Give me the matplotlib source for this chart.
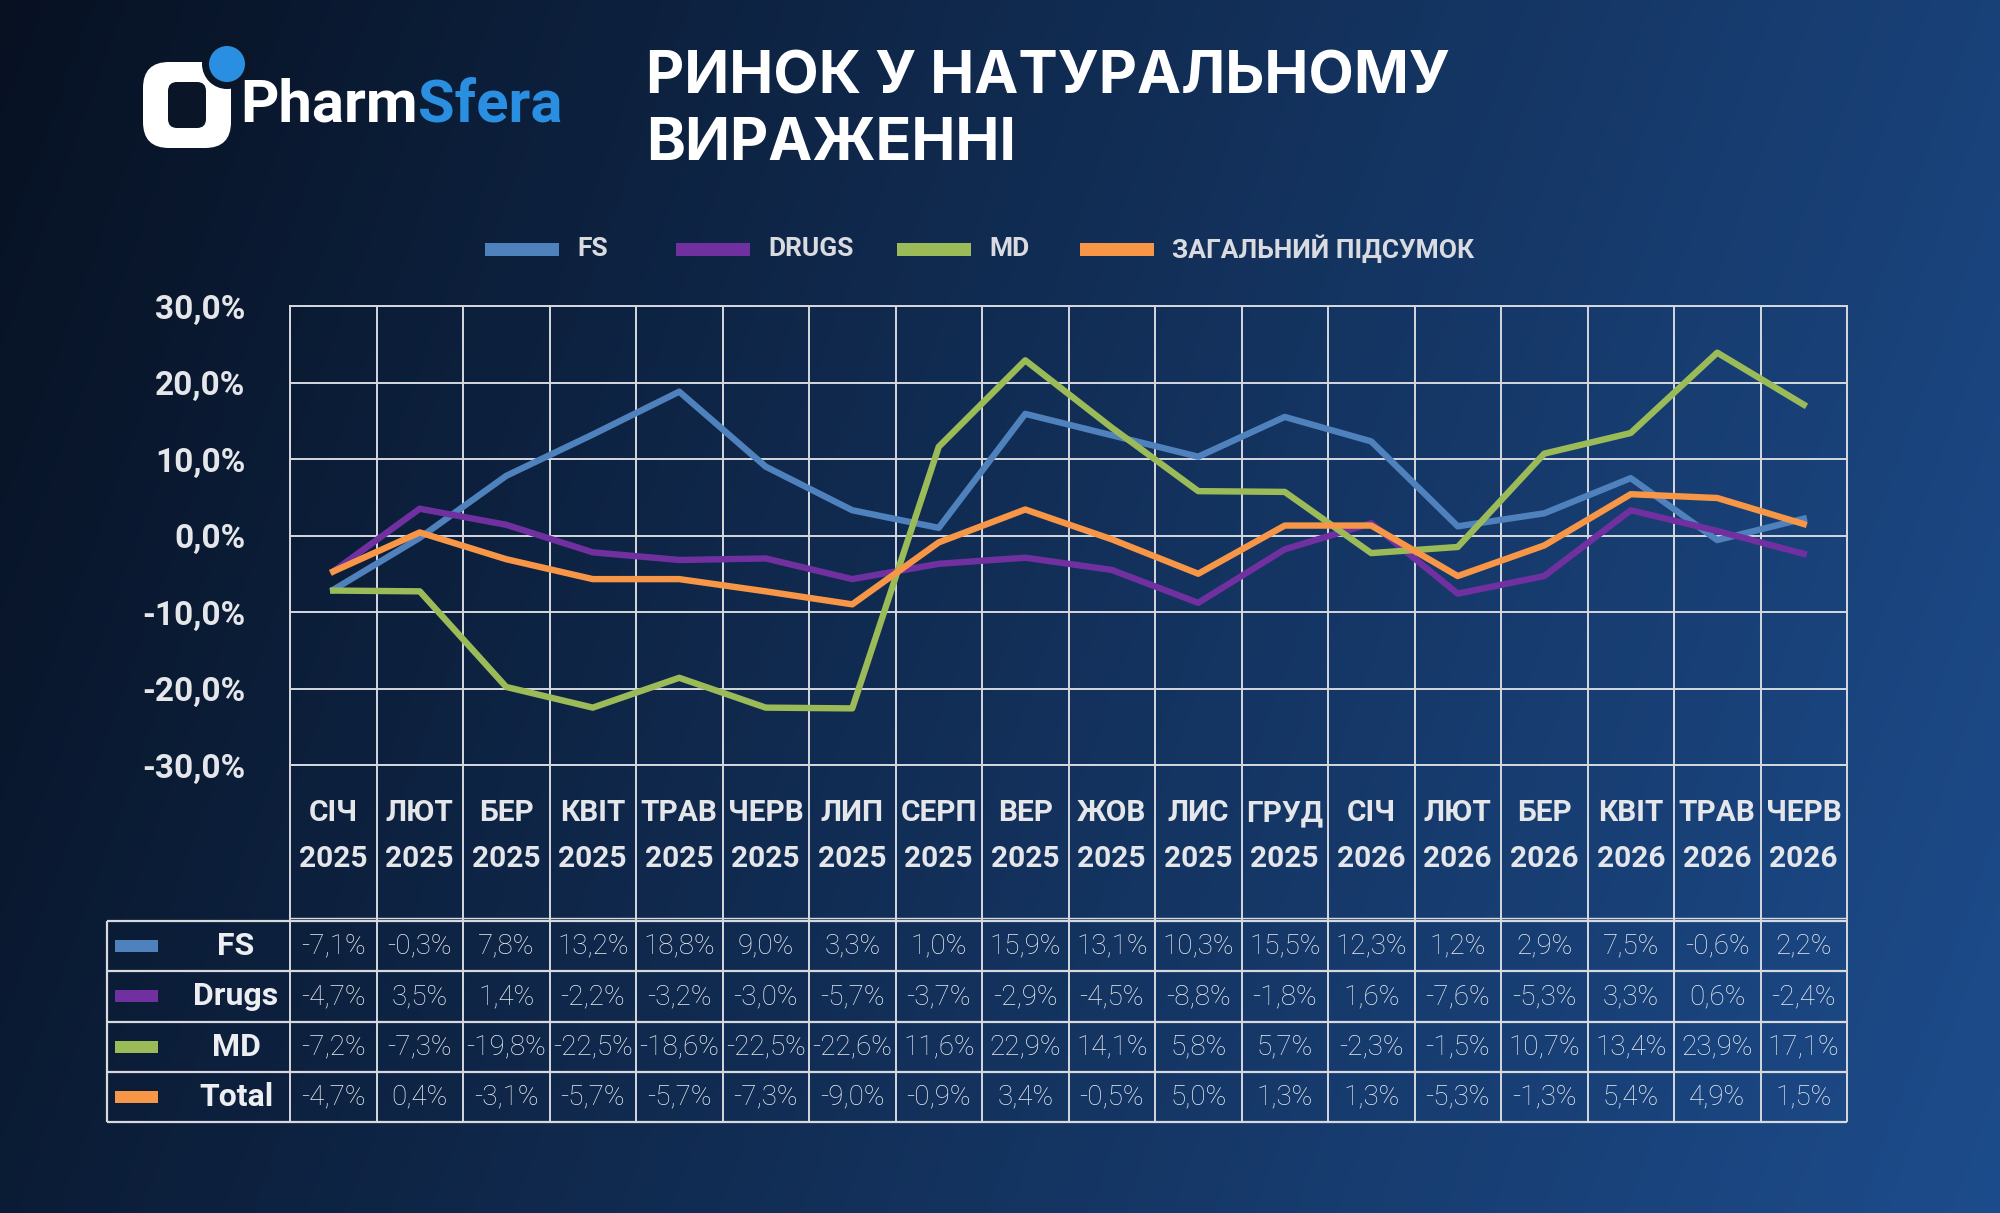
import matplotlib
matplotlib.use("Agg")
import matplotlib.pyplot as plt
from matplotlib.patches import Rectangle, FancyBboxPatch, Circle
import numpy as np

# data, as printed in the reference table
months = ["СІЧ", "ЛЮТ", "БЕР", "КВІТ", "ТРАВ", "ЧЕРВ", "ЛИП", "СЕРП", "ВЕР",
          "ЖОВ", "ЛИС", "ГРУД", "СІЧ", "ЛЮТ", "БЕР", "КВІТ", "ТРАВ", "ЧЕРВ"]
years = ["2025"] * 12 + ["2026"] * 6
fs = [-7.1, -0.3, 7.8, 13.2, 18.8, 9.0, 3.3, 1.0, 15.9, 13.1, 10.3, 15.5,
      12.3, 1.2, 2.9, 7.5, -0.6, 2.2]
drugs = [-4.7, 3.5, 1.4, -2.2, -3.2, -3.0, -5.7, -3.7, -2.9, -4.5, -8.8, -1.8,
         1.6, -7.6, -5.3, 3.3, 0.6, -2.4]
md = [-7.2, -7.3, -19.8, -22.5, -18.6, -22.5, -22.6, 11.6, 22.9, 14.1, 5.8, 5.7,
      -2.3, -1.5, 10.7, 13.4, 23.9, 17.1]
total = [-4.7, 0.4, -3.1, -5.7, -5.7, -7.3, -9.0, -0.9, 3.4, -0.5, -5.0, 1.3,
         1.3, -5.3, -1.3, 5.4, 4.9, 1.5]
# the table in the original drops the minus sign for November
total_table = total[:10] + [5.0] + total[11:]

legend_names = ["FS", "DRUGS", "MD", "ЗАГАЛЬНИЙ ПІДСУМОК"]
row_names = ["FS", "Drugs", "MD", "Total"]
colors = ["#4f81bd", "#7030a0", "#9bbb59", "#f79646"]

FONT = ["Roboto", "DejaVu Sans"]
TITLE_FONT = ["Inter", "Roboto", "DejaVu Sans"]
TXT = "#e4e6ea"
GRID = "#d6d9de"


def pct(v):
    return "{:.1f}%".format(v).replace(".", ",")


W, H = 2000, 1213
fig = plt.figure(figsize=(W / 100, H / 100), dpi=100)

# full-figure layer in pixel coordinates
bg = fig.add_axes([0, 0, 1, 1])
bg.set_xlim(0, W)
bg.set_ylim(H, 0)
bg.axis("off")

gx = np.linspace(0, 1, 400)[None, :]
gy = np.linspace(0, 1, 240)[:, None]
t = np.clip(0.82 * gx + 0.18 * gy, 0, 1)
c0 = np.array([7, 17, 34]) / 255.0
c1 = np.array([29, 76, 140]) / 255.0
bg.imshow(c0 + (c1 - c0) * t[..., None], extent=[0, W, H, 0], aspect="auto", zorder=0)

# logo
dark = "#0a1528"
bg.add_patch(FancyBboxPatch((143, 62), 88, 86, boxstyle="round,pad=0,rounding_size=26",
                            fc="white", ec="none", zorder=2))
bg.add_patch(FancyBboxPatch((168, 82), 38, 46, boxstyle="round,pad=0,rounding_size=9",
                            fc=dark, ec="none", zorder=3))
bg.add_patch(Circle((227, 64), 25, fc=dark, ec="none", zorder=3))
bg.add_patch(Circle((227, 64), 18, fc="#2a8fe0", ec="none", zorder=4))
t1 = bg.text(240, 122, "Pharm", color="white", fontsize=43, fontweight="bold",
             family=FONT, va="baseline", ha="left", zorder=5)
fig.canvas.draw()
ext = t1.get_window_extent(fig.canvas.get_renderer())
x_end = bg.transData.inverted().transform((ext.x1, ext.y0))[0]
bg.text(x_end, 122, "Sfera", color="#2a8fe0", fontsize=43, fontweight="bold",
        family=FONT, va="baseline", ha="left", zorder=5)

# title
bg.text(646, 78, "РИНОК У НАТУРАЛЬНОМУ", color="white", fontsize=42.5,
        fontweight="bold", family=TITLE_FONT, va="center", ha="left")
bg.text(646, 145, "ВИРАЖЕННІ", color="white", fontsize=42.5,
        fontweight="bold", family=TITLE_FONT, va="center", ha="left")

# legend
leg_x = [485, 676, 897, 1080]
for lx, name, col in zip(leg_x, legend_names, colors):
    bg.add_patch(Rectangle((lx, 243), 74, 13, fc=col, ec="none"))
    bg.text(lx + 92, 249, name, color="#d9dbe0", fontsize=19, fontweight="bold",
            family=FONT, va="center", ha="left")

# chart
L, R, T, B = 290, 1847, 306, 765
ax = fig.add_axes([L / W, 1 - B / H, (R - L) / W, (B - T) / H])
ax.set_facecolor("none")
x = np.arange(len(months))
for vals, col in zip([fs, drugs, md, total], colors):
    ax.plot(x, vals, color=col, lw=4.6, zorder=3)
ax.set_xlim(-0.5, len(months) - 0.5)
ax.set_ylim(-30, 30)
ax.set_yticks(np.arange(-30, 31, 10))
ax.set_yticklabels([pct(v) for v in np.arange(-30, 31, 10)])
ax.set_xticks(np.arange(-0.5, len(months), 1))
ax.set_xticklabels([])
ax.tick_params(length=0, pad=32, labelsize=24, labelcolor=TXT)
for lab in ax.get_yticklabels():
    lab.set_fontweight("bold")
    lab.set_family(FONT)
ax.grid(True, color=GRID, lw=1.4)
ax.set_axisbelow(True)
for s in ax.spines.values():
    s.set_color(GRID)
    s.set_linewidth(1.4)

# category area and data table
edges = np.linspace(L, R, len(months) + 1)
centers = (edges[:-1] + edges[1:]) / 2
tab_top, tab_bot, tab_left = 921, 1122, 107
bg.vlines(edges, B, tab_top, color=GRID, lw=1.4)
for cx, m, y in zip(centers, months, years):
    bg.text(cx, 813, m, color=TXT, fontsize=21.5, fontweight="bold", family=FONT,
            ha="center", va="center")
    bg.text(cx, 859, y, color=TXT, fontsize=21.5, fontweight="bold", family=FONT,
            ha="center", va="center")

row_edges = np.linspace(tab_top, tab_bot, len(row_names) + 1)
bg.hlines(row_edges, tab_left, R, color=GRID, lw=1.6)
bg.hlines(tab_top - 3, L, R, color=GRID, lw=1.0)
bg.vlines(edges, tab_top, tab_bot, color=GRID, lw=1.4)
bg.vlines(tab_left, tab_top, tab_bot, color=GRID, lw=1.6)

row_centers = (row_edges[:-1] + row_edges[1:]) / 2
for yc, name, col, vals in zip(row_centers, row_names, colors,
                               [fs, drugs, md, total_table]):
    bg.add_patch(Rectangle((115, yc - 6), 43, 12, fc=col, ec="none"))
    bg.text(236, yc, name, color="#eceef2", fontsize=23, fontweight="bold", family=FONT,
            ha="center", va="center")
    for cx, v in zip(centers, vals):
        bg.text(cx, yc, pct(v), color="#eceef2", fontsize=20, fontweight="light",
                family=FONT, ha="center", va="center")

fig.savefig("out.png", dpi=100)
